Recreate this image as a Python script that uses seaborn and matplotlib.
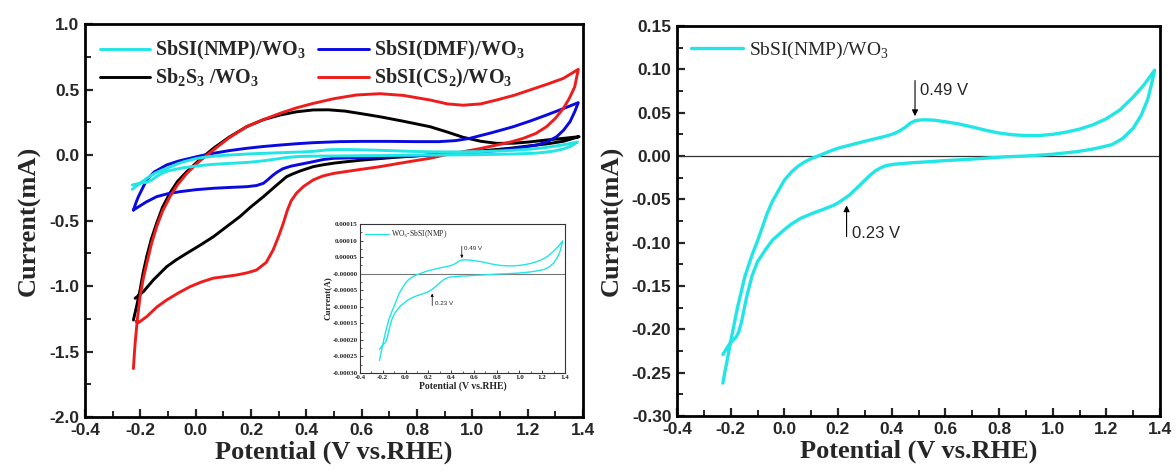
import numpy as np
import matplotlib
matplotlib.use('Agg')
import matplotlib.pyplot as plt
import seaborn as sns
from matplotlib.ticker import MultipleLocator, FormatStrFormatter

# ---------------- data (current in mA, potential in V vs RHE) ----------------
# SbSI(NMP)/WO3 : forward (upper) branch followed by reverse (lower) branch
nmp_x = [-0.229, -0.222, -0.215, -0.200, -0.187, -0.174, -0.160, -0.147, -0.133, -0.120,
         -0.100, -0.085, -0.065, -0.044, -0.020, 0.000, 0.025, 0.050, 0.075, 0.100,
         0.134, 0.165, 0.200, 0.250, 0.300, 0.340, 0.380, 0.410, 0.430, 0.450,
         0.470, 0.490, 0.520, 0.560, 0.600, 0.650, 0.700, 0.760, 0.800, 0.850,
         0.900, 0.950, 1.000, 1.050, 1.100, 1.150, 1.200, 1.250, 1.300, 1.340,
         1.380,
         1.370, 1.355, 1.330, 1.300, 1.260, 1.220, 1.150, 1.090, 1.000, 0.900,
         0.820, 0.750, 0.680, 0.600, 0.544, 0.480, 0.410, 0.380, 0.360, 0.340,
         0.320, 0.300, 0.270, 0.243, 0.215, 0.190, 0.150, 0.106, 0.060, 0.024,
         0.000, -0.022, -0.044, -0.070, -0.085, -0.100, -0.120, -0.140, -0.160, -0.170,
         -0.180, -0.200, -0.215, -0.229]
nmp_y = [-0.262, -0.250, -0.239, -0.214, -0.194, -0.174, -0.156, -0.139, -0.126, -0.114,
         -0.098, -0.085, -0.067, -0.052, -0.039, -0.028, -0.019, -0.012, -0.007, -0.003,
         0.001, 0.005, 0.009, 0.013, 0.017, 0.020, 0.023, 0.026, 0.029, 0.033,
         0.038, 0.041, 0.0418, 0.0413, 0.0395, 0.037, 0.0335, 0.029, 0.0265, 0.0245,
         0.0236, 0.0236, 0.025, 0.0275, 0.031, 0.036, 0.043, 0.053, 0.068, 0.082,
         0.099,
         0.085, 0.066, 0.047, 0.032, 0.020, 0.013, 0.008, 0.005, 0.002, 0.000,
         -0.001, -0.0025, -0.004, -0.0053, -0.0065, -0.0077, -0.0095, -0.011, -0.0135, -0.017,
         -0.022, -0.028, -0.037, -0.045, -0.051, -0.056, -0.061, -0.066, -0.072, -0.079,
         -0.085, -0.091, -0.097, -0.108, -0.115, -0.122, -0.138, -0.162, -0.192, -0.203,
         -0.209, -0.215, -0.222, -0.229]

# SbSI(DMF)/WO3
dmf_x = [-0.225, -0.215, -0.207, -0.190, -0.177, -0.150, -0.105, -0.060, -0.020, 0.020,
         0.064, 0.120, 0.184, 0.245, 0.305, 0.365, 0.425, 0.520, 0.600, 0.700,
         0.800, 0.880, 0.940, 0.990, 1.070, 1.148, 1.210, 1.268, 1.330, 1.383,
         1.370, 1.353, 1.330, 1.305, 1.270, 1.232, 1.170, 1.112, 1.040, 0.967,
         0.850, 0.726, 0.600, 0.500, 0.460, 0.425, 0.380, 0.345, 0.315, 0.295,
         0.280, 0.260, 0.245, 0.220, 0.184, 0.120, 0.064, 0.000, -0.057, -0.100,
         -0.141, -0.180, -0.225]
dmf_y = [-0.420, -0.360, -0.318, -0.245, -0.190, -0.130, -0.076, -0.045, -0.025, -0.005,
         0.013, 0.033, 0.051, 0.065, 0.076, 0.086, 0.094, 0.102, 0.104, 0.104,
         0.102, 0.102, 0.110, 0.127, 0.170, 0.216, 0.260, 0.305, 0.355, 0.400,
         0.330, 0.254, 0.190, 0.140, 0.100, 0.076, 0.055, 0.038, 0.025, 0.013,
         0.000, -0.013, -0.020, -0.025, -0.035, -0.051, -0.070, -0.085, -0.105, -0.130,
         -0.153, -0.190, -0.216, -0.233, -0.242, -0.248, -0.254, -0.265, -0.280, -0.295,
         -0.318, -0.360, -0.420]

# Sb2S3/WO3
sbs_x = [-0.225, -0.213, -0.201, -0.190, -0.177, -0.160, -0.141, -0.120, -0.093, -0.065,
         -0.032, 0.015, 0.064, 0.120, 0.184, 0.245, 0.305, 0.365, 0.425, 0.480,
         0.540, 0.600, 0.666, 0.750, 0.847, 0.910, 0.967, 1.030, 1.088, 1.150,
         1.208, 1.270, 1.329, 1.386,
         1.330, 1.270, 1.208, 1.130, 1.050, 0.950, 0.847, 0.720, 0.606, 0.550,
         0.500, 0.460, 0.425, 0.380, 0.350, 0.329, 0.290, 0.245, 0.200, 0.160,
         0.110, 0.064, 0.015, -0.032, -0.070, -0.105, -0.153, -0.189, -0.219]
sbs_y = [-1.260, -1.150, -1.030, -0.900, -0.776, -0.640, -0.520, -0.400, -0.290, -0.200,
         -0.127, -0.035, 0.051, 0.135, 0.216, 0.270, 0.305, 0.330, 0.344, 0.345,
         0.335, 0.315, 0.292, 0.258, 0.216, 0.175, 0.135, 0.105, 0.089, 0.090,
         0.100, 0.115, 0.127, 0.140,
         0.105, 0.085, 0.070, 0.050, 0.035, 0.018, 0.000, -0.018, -0.038, -0.050,
         -0.062, -0.075, -0.089, -0.120, -0.145, -0.165, -0.235, -0.318, -0.395, -0.470,
         -0.550, -0.624, -0.690, -0.750, -0.800, -0.853, -0.954, -1.043, -1.094]

# SbSI(CS2)/WO3
cs2_x = [-0.225, -0.222, -0.219, -0.215, -0.211, -0.201, -0.190, -0.177, -0.160, -0.141,
         -0.120, -0.093, -0.065, -0.032, 0.015, 0.064, 0.120, 0.184, 0.245, 0.305,
         0.365, 0.425, 0.500, 0.580, 0.666, 0.750, 0.847, 0.910, 0.967, 1.030,
         1.088, 1.150, 1.208, 1.270, 1.329, 1.383,
         1.370, 1.350, 1.329, 1.300, 1.268, 1.230, 1.184, 1.140, 1.088, 1.030,
         0.967, 0.900, 0.847, 0.760, 0.666, 0.580, 0.500, 0.460, 0.425, 0.390,
         0.365, 0.345, 0.330, 0.317, 0.300, 0.280, 0.255, 0.220, 0.185, 0.148,
         0.100, 0.064, 0.020, -0.020, -0.060, -0.105, -0.140, -0.177, -0.207, -0.215]
cs2_y = [-1.630, -1.530, -1.440, -1.350, -1.260, -1.080, -0.950, -0.830, -0.680, -0.547,
         -0.430, -0.318, -0.225, -0.140, -0.045, 0.038, 0.130, 0.216, 0.270, 0.318,
         0.360, 0.394, 0.430, 0.458, 0.468, 0.455, 0.420, 0.390, 0.380, 0.390,
         0.420, 0.455, 0.496, 0.540, 0.585, 0.654,
         0.520, 0.430, 0.356, 0.280, 0.216, 0.165, 0.127, 0.100, 0.076, 0.050,
         0.025, 0.000, -0.025, -0.055, -0.089, -0.115, -0.140, -0.160, -0.190, -0.240,
         -0.290, -0.350, -0.430, -0.520, -0.620, -0.725, -0.820, -0.878, -0.900, -0.916,
         -0.930, -0.940, -0.970, -1.005, -1.050, -1.107, -1.160, -1.234, -1.280, -1.270]

series_labels = ["SbSI(NMP)/WO$_\\mathregular{3}$", "Sb$_\\mathregular{2}$S$_\\mathregular{3}$ /WO$_\\mathregular{3}$",
                 "SbSI(DMF)/WO$_\\mathregular{3}$", "SbSI(CS$_\\mathregular{2}$)/WO$_\\mathregular{3}$"]
inset_label = "WO$_\\mathregular{3}$-SbSI(NMP)"
xlabel_text = "Potential (V vs.RHE)"
ylabel_main = "Current(mA)"
ylabel_inset = "Current(A)"
peak_labels = ["0.49 V", "0.23 V"]

C_CYAN = '#22E5E5'
C_BLUE = '#0A0AE0'
C_BLACK = '#000000'
C_RED = '#EE1C1C'

# ---------------- style ----------------
sns.set_style('ticks')
plt.rcParams['font.family'] = ['Liberation Sans', 'DejaVu Sans']

SERIF_B = dict(family='Liberation Serif', weight='bold')

fig = plt.figure(figsize=(11.76, 4.75), dpi=100)
ax1 = fig.add_axes([85 / 1176, 58 / 475, 498 / 1176, 393 / 475])
ax2 = fig.add_axes([677 / 1176, 59 / 475, 483 / 1176, 390 / 475])


def line(ax, x, y, color, lw, label=None, z=2):
    sns.lineplot(x=np.asarray(x), y=np.asarray(y), sort=False, estimator=None,
                 color=color, lw=lw, label=label, ax=ax, zorder=z)


# ---------------- left panel ----------------
line(ax1, sbs_x, sbs_y, C_BLACK, 2.1, series_labels[1], 2)
line(ax1, dmf_x, dmf_y, C_BLUE, 2.1, series_labels[2], 3)
line(ax1, cs2_x, cs2_y, C_RED, 2.1, series_labels[3], 4)
line(ax1, nmp_x, nmp_y, C_CYAN, 2.1, series_labels[0], 5)

h, l = ax1.get_legend_handles_labels()
order = [l.index(s) for s in series_labels]
ax1.legend([h[i] for i in order], [l[i] for i in order], ncol=2, loc='upper left',
           bbox_to_anchor=(0.0, 1.0), frameon=False, borderaxespad=0.35,
           handlelength=2.5, handletextpad=0.25, columnspacing=0.6, labelspacing=0.25,
           prop=dict(family='Liberation Serif', weight='bold', size=14.5))

ax1.set_xlim(-0.4, 1.4)
ax1.set_ylim(-2.0, 1.0)
ax1.xaxis.set_major_locator(MultipleLocator(0.2))
ax1.xaxis.set_minor_locator(MultipleLocator(0.1))
ax1.yaxis.set_major_locator(MultipleLocator(0.5))
ax1.yaxis.set_minor_locator(MultipleLocator(0.25))
ax1.xaxis.set_major_formatter(FormatStrFormatter('%.1f'))
ax1.yaxis.set_major_formatter(FormatStrFormatter('%.1f'))

# ---------------- right panel ----------------
ax2.axhline(0, color='#333333', lw=0.9, zorder=1)
line(ax2, nmp_x, nmp_y, C_CYAN, 2.4, series_labels[0], 3)
ax2.legend(loc='upper left', bbox_to_anchor=(0.0, 1.0), frameon=False, borderaxespad=0.3,
           handlelength=2.7, handletextpad=0.3,
           prop=dict(family='Liberation Serif', size=14))
ax2.set_xlim(-0.4, 1.4)
ax2.set_ylim(-0.30, 0.15)
ax2.xaxis.set_major_locator(MultipleLocator(0.2))
ax2.xaxis.set_minor_locator(MultipleLocator(0.1))
ax2.yaxis.set_major_locator(MultipleLocator(0.05))
ax2.yaxis.set_minor_locator(MultipleLocator(0.025))
ax2.xaxis.set_major_formatter(FormatStrFormatter('%.1f'))
ax2.yaxis.set_major_formatter(FormatStrFormatter('%.2f'))

ap = dict(arrowstyle='-|>', color='black', lw=0.8, mutation_scale=9, shrinkA=0, shrinkB=0)
ax2.annotate('', xy=(0.487, 0.046), xytext=(0.487, 0.087), arrowprops=ap)
ax2.text(0.505, 0.076, peak_labels[0], fontsize=12, va='center', ha='left')
ax2.annotate('', xy=(0.232, -0.057), xytext=(0.232, -0.093), arrowprops=ap)
ax2.text(0.252, -0.090, peak_labels[1], fontsize=12, va='center', ha='left')

for ax in (ax1, ax2):
    ax.tick_params(which='major', direction='in', length=6, width=1.6, labelsize=12.5,
                   top=False, right=False, pad=4)
    ax.tick_params(which='minor', direction='in', length=4, width=1.4, top=False, right=False)
    for lab in ax.get_xticklabels() + ax.get_yticklabels():
        lab.set_fontweight('bold')
    for sp in ax.spines.values():
        sp.set_visible(True)
        sp.set_linewidth(2.0)
        sp.set_color('black')
    ax.set_xlabel(xlabel_text, fontsize=19, labelpad=2, **SERIF_B)
    ax.set_ylabel(ylabel_main, fontsize=19, labelpad=6, **SERIF_B)

# ---------------- inset ----------------
axi = fig.add_axes([360 / 1176, 102 / 475, 205 / 1176, 149 / 475])
nmp_amp = np.asarray(nmp_y) * 1e-3
axi.axhline(0, color='#777777', lw=0.8, zorder=1)
line(axi, nmp_x, nmp_amp, C_CYAN, 1.0, inset_label, 3)
axi.legend(loc='upper left', frameon=False, borderaxespad=0.2, handlelength=3.2,
           handletextpad=0.3, prop=dict(family='Liberation Serif', size=5.5))
axi.set_xlim(-0.4, 1.4)
axi.set_ylim(-0.0003, 0.00015)
axi.xaxis.set_major_locator(MultipleLocator(0.2))
axi.xaxis.set_minor_locator(MultipleLocator(0.1))
axi.yaxis.set_major_locator(MultipleLocator(0.00005))
axi.yaxis.set_minor_locator(MultipleLocator(0.000025))
axi.xaxis.set_major_formatter(FormatStrFormatter('%.1f'))
axi.yaxis.set_major_formatter(FormatStrFormatter('%.5f'))
axi.tick_params(which='major', direction='in', length=2.5, width=0.6, labelsize=5, pad=1.5)
axi.tick_params(which='minor', direction='in', length=1.5, width=0.5)
for lab in axi.get_xticklabels() + axi.get_yticklabels():
    lab.set_family('Liberation Serif')
    lab.set_fontweight('bold')
for sp in axi.spines.values():
    sp.set_visible(True)
    sp.set_linewidth(0.8)
    sp.set_color('#333333')
axi.set_xlabel(xlabel_text, fontsize=7, labelpad=1, **SERIF_B)
axi.set_ylabel(ylabel_inset, fontsize=6.5, labelpad=1, **SERIF_B)
api = dict(arrowstyle='-|>', color='black', lw=0.5, mutation_scale=4, shrinkA=0, shrinkB=0)
axi.annotate('', xy=(0.494, 0.000047), xytext=(0.494, 0.000083), arrowprops=api)
axi.text(0.51, 0.0000745, peak_labels[0], fontsize=4.5, va='center', ha='left')
axi.annotate('', xy=(0.234, -0.000060), xytext=(0.234, -0.0000965), arrowprops=api)
axi.text(0.255, -0.000091, peak_labels[1], fontsize=4.5, va='center', ha='left')

fig.savefig('out.png', dpi=100)
